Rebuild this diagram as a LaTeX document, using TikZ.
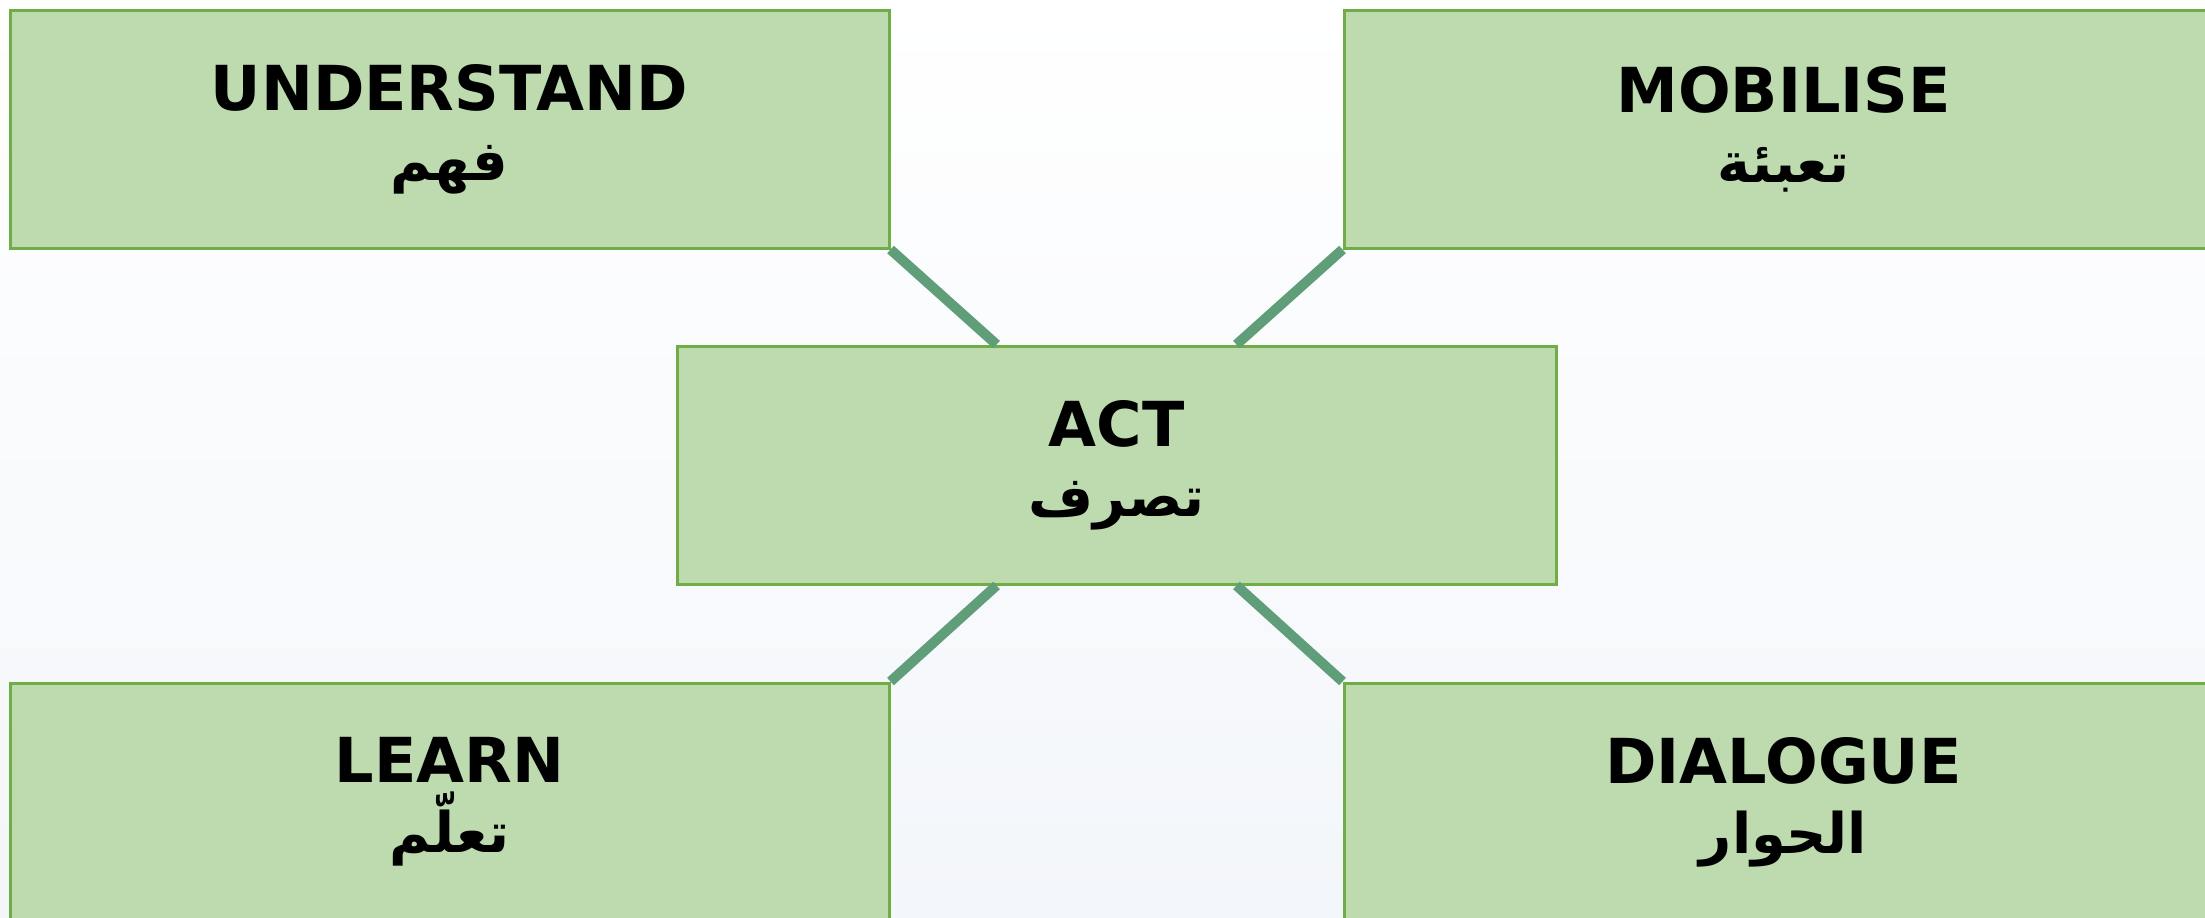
\documentclass[tikz,border=0pt]{standalone}
\usepackage{fontspec}
\usepackage{xcolor}
\usepackage{tikz}
\usetikzlibrary{positioning,calc}
\TeXXeTstate=1
\newfontfamily\titlefont{DejaVu Sans}
\newfontfamily\arabicfont[Script=Arabic]{DejaVu Sans}

\definecolor{boxfill}{RGB}{189,219,175}
\definecolor{boxline}{RGB}{112,173,71}
\definecolor{linkcol}{RGB}{96,158,122}
\definecolor{bgbottom}{RGB}{243,246,250}

\begin{document}
\begin{tikzpicture}[x=0.5pt, y=-0.5pt,
    stage/.style={draw=boxline, line width=1.5pt, fill=boxfill, minimum width=439.5pt, minimum height=119pt, align=center, inner sep=0pt, font=\fontsize{31}{35}\selectfont\bfseries, execute at begin node=\rule{0pt}{29pt}},
    link/.style={draw=linkcol, line width=5pt}]
    \useasboundingbox (0,0) rectangle (2205,917);
    \shade[top color=white, bottom color=bgbottom] (0,0) rectangle (2205,917);
    \node[stage] (act) at (1116.5,465) {{\titlefont ACT}\\{\arabicfont\fontsize{28}{35}\selectfont\beginR تصرف\endR}};
    \node[stage, above left=47.5pt and -107.5pt of act] (understand) {{\titlefont UNDERSTAND}\\{\arabicfont\fontsize{28}{35}\selectfont\beginR فهم\endR}};
    \node[stage, above right=47.5pt and -107.5pt of act] (mobilise) {{\titlefont MOBILISE}\\{\arabicfont\fontsize{28}{35}\selectfont\beginR تعبئة\endR}};
    \node[stage, below left=48pt and -107.5pt of act] (learn) {{\titlefont LEARN}\\{\arabicfont\fontsize{28}{35}\selectfont\beginR تعلّم\endR}};
    \node[stage, below right=48pt and -107.5pt of act] (dialogue) {{\titlefont DIALOGUE}\\{\arabicfont\fontsize{28}{35}\selectfont\beginR الحوار\endR}};
    \draw[link] (understand.south east) -- ($(act.north west)!0.364!(act.north east)$);
    \draw[link] (mobilise.south west) -- ($(act.north east)!0.364!(act.north west)$);
    \draw[link] (learn.north east) -- ($(act.south west)!0.364!(act.south east)$);
    \draw[link] (dialogue.north west) -- ($(act.south east)!0.364!(act.south west)$);
\end{tikzpicture}
\end{document}
